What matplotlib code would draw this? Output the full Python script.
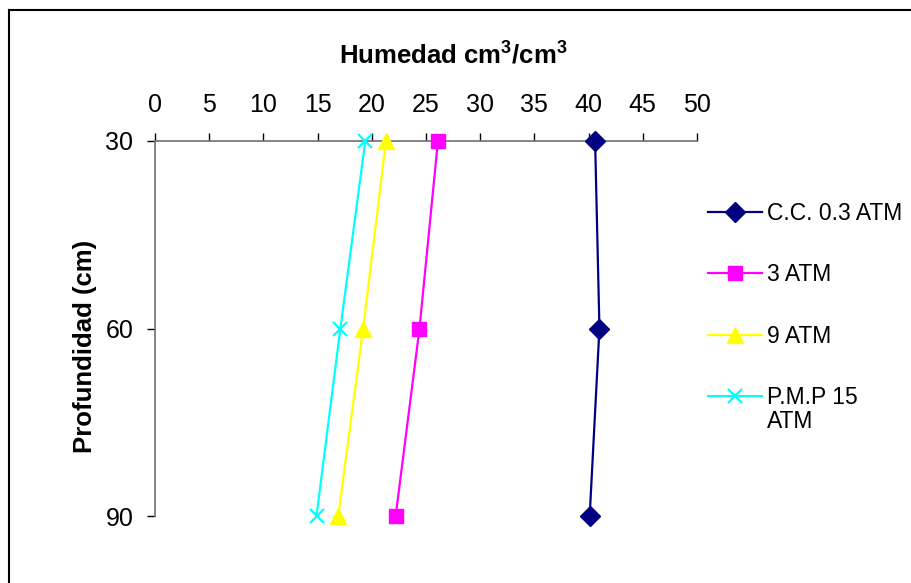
import matplotlib.pyplot as plt
from matplotlib.lines import Line2D

plt.rcParams['font.family'] = ['Liberation Sans', 'DejaVu Sans']
plt.rcParams['mathtext.fontset'] = 'custom'
plt.rcParams['mathtext.rm'] = 'Liberation Sans'
plt.rcParams['mathtext.bf'] = 'Liberation Sans:bold'

# Data.
depth = [30, 60, 90]
cc_03 = [40.6, 41.0, 40.1]
atm_3 = [26.1, 24.4, 22.2]
atm_9 = [21.3, 19.2, 16.9]
pmp_15 = [19.4, 17.1, 14.9]
labels = ['C.C. 0.3 ATM', '3 ATM', '9 ATM', 'P.M.P 15']
x_ticks = list(range(0, 55, 5))

fig = plt.figure(figsize=(9.11, 5.83), dpi=100)
ax = fig.add_axes([155 / 911, 1 - 516 / 583, 542 / 911, 375 / 583])

# Series with their Excel-like markers.
ax.plot(cc_03, depth, color='#000080', marker='D', markersize=10, lw=1.6,
        label=labels[0], clip_on=False, zorder=5)
ax.plot(atm_3, depth, color='#FF00FF', marker='s', markersize=10, lw=1.6,
        label=labels[1], clip_on=False, zorder=5)
ax.plot(atm_9, depth, color='#FFFF00', marker='^', markersize=11, lw=1.6,
        label=labels[2], clip_on=False, zorder=5)
ax.plot(pmp_15, depth, color='#00FFFF', marker='x', markersize=10, mew=1.6,
        lw=1.6, label=labels[3], clip_on=False, zorder=5)

ax.set_xlim(0, 50)
ax.set_ylim(90, 30)
ax.set_xticks(x_ticks)
ax.set_yticks(depth)
ax.xaxis.tick_top()
ax.tick_params(axis='both', direction='out', length=5.5, width=1,
               color='black', labelsize=18)
ax.tick_params(axis='x', pad=12)
ax.tick_params(axis='y', pad=10)
for side in ['right', 'bottom']:
    ax.spines[side].set_visible(False)
for side in ['left', 'top']:
    ax.spines[side].set_color('#707070')
    ax.spines[side].set_linewidth(1.2)

fig.text(453 / 911, 1 - 63 / 583, r'Humedad cm$^{\mathbf{3}}$/cm$^{\mathbf{3}}$',
         ha='center', va='baseline', fontsize=18.5, fontweight='bold')
fig.text(85 / 911, 1 - 346 / 583, 'Profundidad (cm)', rotation=90,
         ha='center', va='center', fontsize=18.5, fontweight='bold')

leg = ax.legend(loc='upper left', bbox_to_anchor=(708 / 911, 1 - 202 / 583),
                bbox_transform=fig.transFigure, frameon=False, fontsize=16.5,
                handlelength=2.36, handletextpad=0.22, labelspacing=1.67,
                borderaxespad=0, borderpad=0)

# Second line of the last legend label, placed under its first line.
fig.canvas.draw()
last = leg.get_texts()[-1]
bb = last.get_window_extent()
fig.text(bb.x0 / 911, (bb.y0 - 24 + bb.height / 2) / 583, 'ATM',
         ha='left', va='center', fontsize=16.5)

# Outer chart border (top and left edges visible).
fig.add_artist(Line2D([9 / 911, 1], [1 - 10 / 583, 1 - 10 / 583],
                      transform=fig.transFigure, color='black', lw=1.5))
fig.add_artist(Line2D([9 / 911, 9 / 911], [0, 1 - 10 / 583],
                      transform=fig.transFigure, color='black', lw=1.5))

fig.savefig('out.png', dpi=100)
